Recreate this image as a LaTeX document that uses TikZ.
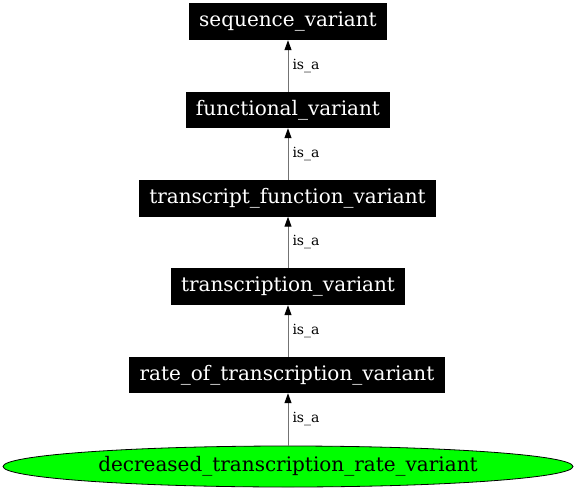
\documentclass[tikz,border=0pt]{standalone}
\usepackage{fontspec}
\setmainfont{DejaVu Serif}
\usetikzlibrary{shapes.geometric,arrows.meta}
\begin{document}
\begin{tikzpicture}[x=1bp,y=-1bp,
  term/.style={rectangle,fill=black,text=white,inner sep=0pt,font=\fontsize{20bp}{24bp}\selectfont,anchor=center},
  leaf/.style={ellipse,draw=black,line width=0.8bp,fill=green,text=black,inner sep=0pt,minimum width=570bp,minimum height=41bp,font=\fontsize{20bp}{24bp}\selectfont},
  isa/.style={draw=black!55,line width=1bp,-{Triangle[length=10bp,width=7bp,color=black]}},
  lbl/.style={font=\fontsize{14bp}{16bp}\selectfont,anchor=west,inner sep=0pt,xshift=4bp}]
\useasboundingbox (0,0) rectangle (576,492);
\node[term,minimum width=198bp,minimum height=37bp] (seq) at (288,21.5) {sequence\_variant};
\node[term,minimum width=204bp,minimum height=36bp] (func) at (288,110) {functional\_variant};
\node[term,minimum width=297bp,minimum height=36.5bp] (tfv) at (287.5,198.3) {transcript\_function\_variant};
\node[term,minimum width=234bp,minimum height=37bp] (tv) at (288,286.5) {transcription\_variant};
\node[term,minimum width=316bp,minimum height=36bp] (rotv) at (287,375) {rate\_of\_transcription\_variant};
\node[leaf] (dec) at (288,466.5) {decreased\_transcription\_rate\_variant};
\draw[isa] (func.north -| seq.south) -- node[lbl] (l1) {is\_a} (seq.south);
\draw[isa] (tfv.north -| seq.south) -- node[lbl] (l2) {is\_a} (func.south -| seq.south);
\draw[isa] (tv.north -| seq.south) -- node[lbl] (l3) {is\_a} (tfv.south -| seq.south);
\draw[isa] (rotv.north -| seq.south) -- node[lbl] (l4) {is\_a} (tv.south -| seq.south);
\draw[isa] (dec.north) -- node[lbl] (l5) {is\_a} (rotv.south -| dec.north);
\end{tikzpicture}
\end{document}
